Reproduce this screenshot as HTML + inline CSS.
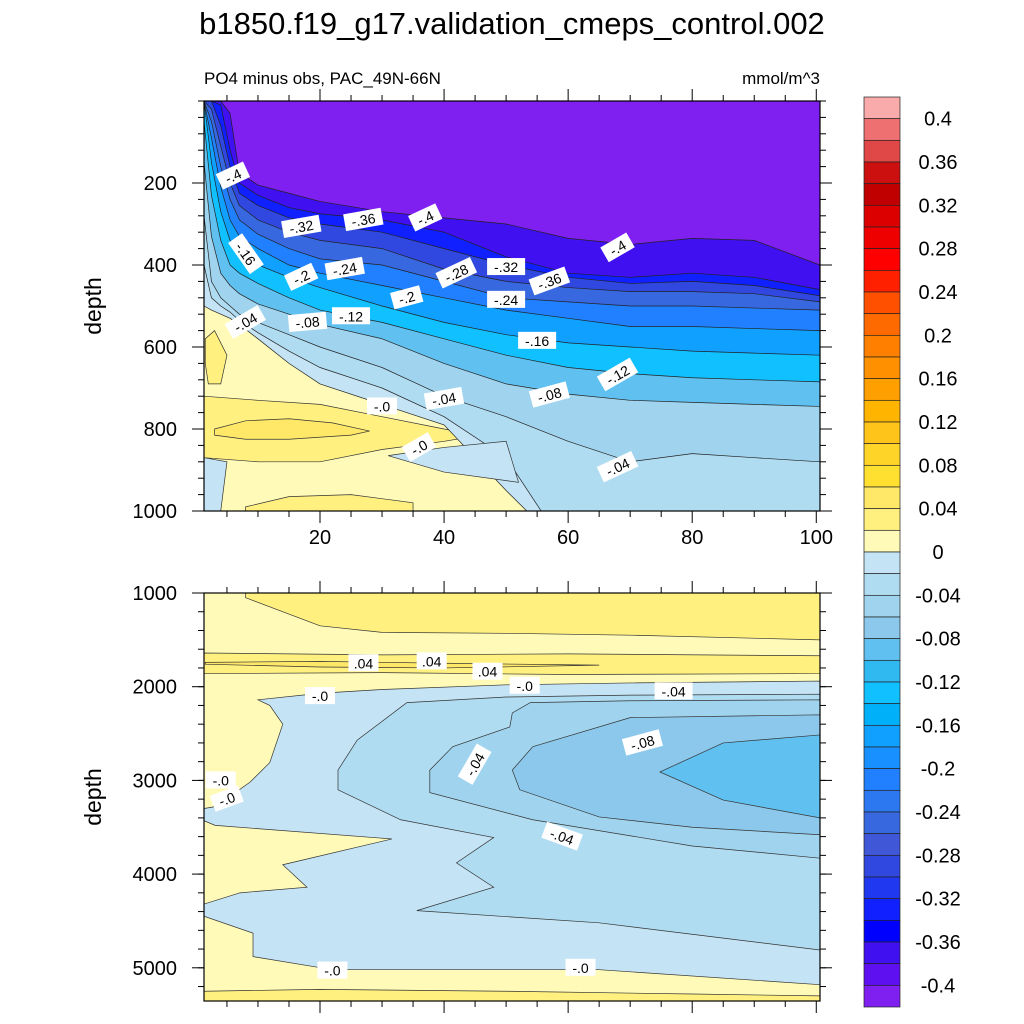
<!DOCTYPE html>
<html><head><meta charset="utf-8"><style>
html,body{margin:0;padding:0;background:#fff;width:1024px;height:1024px;overflow:hidden}
svg{display:block;font-family:"Liberation Sans",sans-serif}
</style></head><body>
<svg id="chart" width="1024" height="1024" viewBox="0 0 1024 1024">
<text x="512" y="34" font-size="31" text-anchor="middle">b1850.f19_g17.validation_cmeps_control.002</text>
<text x="204" y="84" font-size="17">PO4 minus obs, PAC_49N-66N</text>
<text x="820" y="84" font-size="17" text-anchor="end">mmol/m^3</text>
<text transform="translate(101,306) rotate(-90)" font-size="23" text-anchor="middle">depth</text>
<text transform="translate(101,797) rotate(-90)" font-size="23" text-anchor="middle">depth</text>
<g id="top"></g>
<g id="bot"></g>
<g id="cbar"></g>
</svg>
<script>
const NS="http://www.w3.org/2000/svg";
const warmColors=["#f9aaaa","#ef7070","#e04848","#cc1010","#c00000","#dc0000","#ee0000","#ff0000","#ff2000","#ff5000","#ff6a00","#ff8000","#ff9000","#ffa000","#ffb400","#ffc41a","#ffd428","#ffe030","#ffe868","#fff080","#fffab8"];
const coolColors=["#c4e4f5","#b0dcf2","#a0d4ee","#8cc8ec","#60c0f0","#30b8f0","#10c0ff","#00b0f8","#10a0ff","#1890ff","#2080ff","#2c78f0","#3868e0","#4058d8","#3048e0","#2038f0","#1020ff","#0000ff","#4010f0","#5f10f0","#7f20f0"];
const cbarLabels=["0.4","0.36","0.32","0.28","0.24","0.2","0.16","0.12","0.08","0.04","0","-0.04","-0.08","-0.12","-0.16","-0.2","-0.24","-0.28","-0.32","-0.36","-0.4"];
// top panel data
const topX=[1.3,2.5,4,5.5,7,10,15,20,30,40,50,60,70,80,90,100.6];
const topLevels=[0,-0.02,-0.04,-0.08,-0.12,-0.16,-0.2,-0.24,-0.28,-0.32,-0.36,-0.4];
const topDepths=[
 [500,510,520,530,545,580,640,690,740,790,950,1100,1100,1100,1100,1100],
 [400,480,500,515,535,565,610,650,700,770,870,1100,1100,1100,1100,1100],
 [280,440,480,500,520,540,570,600,650,720,770,830,880,860,870,880],
 [150,330,420,450,470,495,520,545,580,640,690,715,730,735,740,745],
 [50,230,340,400,420,445,480,510,540,580,620,650,665,675,680,685],
 [0,150,270,340,370,400,430,455,500,540,570,590,600,610,615,620],
 [0,90,210,290,330,360,400,420,450,480,510,530,550,550,555,560],
 [0,50,160,240,290,325,360,385,400,440,480,490,500,500,505,510],
 [0,20,110,200,255,290,320,340,360,410,440,455,465,465,470,490],
 [0,0,60,160,225,255,285,300,320,360,400,430,445,440,450,475],
 [0,0,10,120,200,230,260,275,290,320,380,420,430,420,430,460],
 [0,0,0,30,175,205,225,245,270,285,300,335,350,335,340,400]];
const topExtra=[
 {lv:0.02,x:[1.3,10,20,30,40,46,40,30,20,10,1.3],d:[720,730,740,770,800,815,830,850,880,880,870]},
 {lv:0.04,x:[3,8,15,22,28,25,15,8,3],d:[800,780,775,785,805,815,825,825,815]},
 {lv:0.02,x:[1.5,3,5,4,2,1.5],d:[580,560,620,690,690,640]},
 {lv:0,x:[1.3,5,4,1.3],d:[870,880,1000,1000]},
 {lv:0,x:[31,40,50,52,40],d:[865,845,830,930,905]},
 {lv:0.02,x:[8,15,25,35,35,8],d:[990,965,960,980,1010,1010]}];
const topLabelsTxt=["-.4","-.32","-.36","-.4","-.16","-.2","-.24","-.28","-.32","-.36","-.4","-.2","-.24","-.04","-.08","-.12","-.16","-.12","-.0","-.04","-.08","-.0","-.04"];
const topLabelsX=[6,17,27,37,8,17,24,42,50,57,68,34,50,8,18,25,55,68,30,40,57,36,68];
const topLabelsD=[183,307,290,285,373,430,410,420,405,440,358,480,485,540,540,525,585,668,745,727,717,845,893];
const topLabelsA=[-25,-10,-10,-25,55,-25,-10,-25,0,-20,-30,-15,0,-30,-5,0,0,-30,0,-10,-15,-30,-25];
// bottom panel data (regions as x/depth polygons)
const botRegions=[
 {lv:0.02,x:[8,30,50,100.6,100.6,70,50,30,20,8],d:[1000,1000,1000,1000,1500,1450,1430,1420,1350,1050]},
 {lv:0.02,x:[1.3,30,60,100.6,100.6,60,30,1.3],d:[1640,1660,1650,1670,1860,1870,1850,1860]},
 {lv:0.04,x:[1.5,20,40,65,40,20,1.5],d:[1740,1730,1750,1770,1800,1790,1760]},
 {lv:0,x:[10,20,30,50,70,100.6,100.6,65,22,9.2,9.2,1.3,1.3,7.1,17.9,14,31.6,3.1,1.3,1.3,3.1,8.7,11.9,14,11.9],d:[2140,2070,2030,1980,1960,1940,5180,5020,5020,4880,4630,4450,4320,4200,4140,3900,3625,3480,3430,3300,3280,3020,2810,2400,2200]},
 {lv:-0.02,x:[34,50,70,100.6,100.6,65,35.6,48,42,48,33,22.9,22.9,26],d:[2170,2110,2090,2080,4810,4520,4390,4140,3880,3610,3420,3100,2890,2570]},
 {lv:-0.04,x:[53.9,70,100.6,100.6,80,54.3,37.7,37.7,41.4,50.6,51],d:[2170,2150,2140,3830,3700,3420,3130,2890,2640,2430,2280]},
 {lv:-0.06,x:[54.3,70,100.6,100.6,80,65,52.2,51],d:[2640,2330,2300,3580,3500,3390,3100,2890]},
 {lv:-0.08,x:[74.8,85,100.6,100.6,85],d:[2910,2600,2515,3400,3210]},
 {lv:0.02,x:[1.3,20,50,80,100.6,100.6,1.3],d:[5250,5230,5250,5280,5300,5400,5400]}];
const botLabelsTxt=[".04",".04",".04","-.0","-.0","-.04","-.0","-.08","-.04","-.0","-.04","-.0","-.0"];
const botLabelsX=[27,38,47,53,20,45,5,72,59,4,77,22,62];
const botLabelsD=[1750,1730,1840,1990,2100,2830,3200,2600,3600,3000,2050,5030,5000];
const botLabelsA=[0,0,0,0,0,-60,-20,-15,20,0,0,0,0];

function el(tag,attrs,parent){const e=document.createElementNS(NS,tag);for(const k in attrs)e.setAttribute(k,attrs[k]);(parent||document.getElementById('chart')).appendChild(e);return e;}
function colorFor(lv){
 const k=Math.round(-lv/0.02);
 if(k>=0) return coolColors[Math.min(k,20)];
 return warmColors[20+k];
}
const PX0=204,PX1=820;
const xs=x=>PX0+(x-1.3)/(100.6-1.3)*(PX1-PX0);
const ysT=d=>101+d*0.41;
const ysB=d=>593+(d-1000)*0.0937;
const topG=document.getElementById('top');
const botG=document.getElementById('bot');
el('clipPath',{id:'ct'},topG);
el('rect',{x:204,y:101,width:616,height:410},document.getElementById('ct'));
el('clipPath',{id:'cb'},botG);
el('rect',{x:204,y:593,width:616,height:408},document.getElementById('cb'));
const tg=el('g',{'clip-path':'url(#ct)'},topG);
const bg0=el('rect',{x:204,y:101,width:616,height:410,fill:warmColors[20]},tg);


topExtra.slice(0,3).forEach((r,i)=>{
 const p=el('polygon',{points:r.x.map((x,j)=>xs(x)+','+ysT(r.d[j])).join(' '),fill:colorFor(r.lv),stroke:'#333','stroke-width':0.7},tg);
 
 
});
topLevels.forEach((lv,i)=>{
 let pts=topX.map((x,j)=>xs(x)+','+ysT(topDepths[i][j]));
 const p=el('polygon',{points:xs(1.3)+','+ysT(-10)+' '+pts.join(' ')+' '+xs(100.6)+','+ysT(-10),fill:colorFor(lv),stroke:'none'},tg);
 
 
 const l=el('polyline',{points:pts.join(' '),fill:'none',stroke:'#222','stroke-width':0.7},tg);
 
 
});
topExtra.slice(3).forEach((r,i)=>{
 const p=el('polygon',{points:r.x.map((x,j)=>xs(x)+','+ysT(r.d[j])).join(' '),fill:colorFor(r.lv),stroke:'#333','stroke-width':0.7},tg);
 
 
});
function label(g,x,y,t,a){
 const gg=el('g',{transform:`translate(${x},${y}) rotate(${a})`},g);
 
 
 const w=t.length*8+6;
 el('rect',{x:-w/2,y:-9,width:w,height:17,fill:'#fff'},gg);
 const tx=el('text',{x:0,y:5,'font-size':14,'text-anchor':'middle'},gg);tx.textContent=t;
}
topLabelsTxt.forEach((t,i)=>label(tg,xs(topLabelsX[i]),ysT(topLabelsD[i]),t,topLabelsA[i]));
const bg=el('g',{'clip-path':'url(#cb)'},botG);
const bb=el('rect',{x:204,y:593,width:616,height:408,fill:warmColors[20]},bg);


botRegions.forEach((r,i)=>{
 const p=el('polygon',{points:r.x.map((x,j)=>xs(x)+','+ysB(r.d[j])).join(' '),fill:colorFor(r.lv),stroke:'#333','stroke-width':0.7},bg);
 
 
});
botLabelsTxt.forEach((t,i)=>label(bg,xs(botLabelsX[i]),ysB(botLabelsD[i]),t,botLabelsA[i]));
function frame(g,y0,y1,depTicks,ys,minorStep,dmin,dmax,xlabels){
 el('rect',{x:204,y:y0,width:616,height:y1-y0,fill:'none',stroke:'#000','stroke-width':1.2},g);
 depTicks.forEach(d=>{const y=ys(d);
  el('line',{x1:192,x2:204,y1:y,y2:y,stroke:'#000'},g);el('line',{x1:820,x2:832,y1:y,y2:y,stroke:'#000'},g);
  const t=el('text',{x:177,y:y+7,'font-size':20,'text-anchor':'end'},g);t.textContent=d;
  
  });
 for(let d=dmin;d<=dmax;d+=minorStep){const y=ys(d);if(y<y0||y>y1)continue;
  el('line',{x1:198,x2:204,y1:y,y2:y,stroke:'#000'},g);el('line',{x1:820,x2:826,y1:y,y2:y,stroke:'#000'},g);}
 for(let x=5;x<=100;x+=5){const X=xs(x),big=x%20==0;
  el('line',{x1:X,x2:X,y1:y0-(big?12:6),y2:y0,stroke:'#000'},g);
  el('line',{x1:X,x2:X,y1:y1,y2:y1+(big?12:6),stroke:'#000'},g);
  if(xlabels&&big){const t=el('text',{x:X,y:y1+33,'font-size':20,'text-anchor':'middle'},g);t.textContent=x;
   
   }}
}
frame(topG,101,511,[200,400,600,800,1000],ysT,40,0,1000,true);
frame(botG,593,1001,[1000,2000,3000,4000,5000],ysB,200,1000,5400,false);
const cb=document.getElementById('cbar');
const allC=warmColors.concat(coolColors);const bh=910/42;
allC.forEach((c,i)=>{const r=el('rect',{x:864,y:97+i*bh,width:36,height:bh,fill:c,stroke:'#222','stroke-width':0.7},cb);
 
 });
cbarLabels.forEach((t,i)=>{const tx=el('text',{x:938,y:97+(1+2*i)*bh+7,'font-size':20,'text-anchor':'middle'},cb);tx.textContent=t;
 
 });
</script>
</body></html>
